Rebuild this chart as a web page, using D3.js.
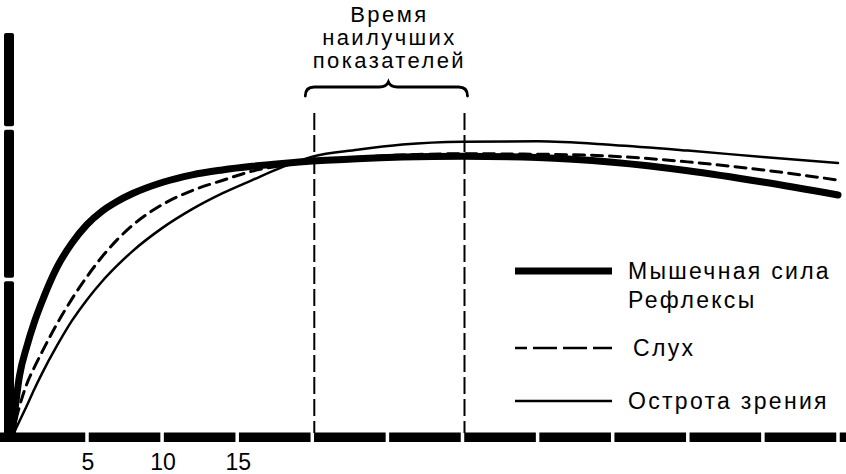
<!DOCTYPE html>
<html>
<head>
<meta charset="utf-8">
<script src="https://cdn.jsdelivr.net/npm/d3@7"></script>
<style>
  html, body { margin: 0; padding: 0; background: #fff; }
  svg { display: block; }
  text { font-family: "Liberation Sans", Arial, sans-serif; fill: #000; }
  .tick-label { font-family: "Liberation Sans Narrow", "Liberation Sans", Arial, sans-serif; }
</style>
</head>
<body>
<svg id="chart" width="846" height="474"></svg>
<script>
// ---- data ----
const ages    = [0, 0.5, 1, 1.5, 2, 3, 4, 5, 6, 7, 8, 10, 12, 14, 16, 18, 20, 23, 26, 30, 35, 40, 45, 50, 55];
const muscle  = [0, 15.0, 22.5, 28.5, 33.5, 42.0, 48.0, 52.6, 55.9, 58.3, 60.2, 63.0, 64.9, 66.1, 67.0, 67.7, 68.3, 68.9, 69.3, 69.5, 69.2, 68.0, 65.9, 63.1, 59.9];
const hearing = [0, 7.5, 13.2, 17.3, 21.0, 28.0, 34.2, 39.7, 44.6, 48.8, 52.3, 57.5, 61.0, 63.5, 65.8, 67.2, 68.1, 69.2, 69.8, 70.1, 70.0, 69.5, 68.1, 66.1, 63.6];
const vision  = [0, 3.9, 7.8, 11.9, 15.7, 22.6, 28.8, 34.0, 38.5, 42.4, 45.9, 51.7, 56.4, 60.3, 63.6, 66.8, 69.4, 71.1, 72.4, 73.1, 73.2, 72.3, 70.9, 69.3, 67.8];
const xTicks  = [0, 5, 10, 15, 20, 25, 30, 35, 40, 45, 50, 55];
const xTickLabels = ["5", "10", "15"];
const xLabelTicks = [5, 10, 15];
const yTicks  = [0, 39, 76.5, 100];
const bestPeriod = [20, 30];
const titleLines = ["Время", "наилучших", "показателей"];
const legendLabels = [["Мышечная сила", "Рефлексы"], ["Слух"], ["Острота зрения"]];

// ---- scales ----
const svg = d3.select("#chart");
const x = d3.scaleLinear().domain([0, 55]).range([11.9, 838]);
const y = d3.scaleLinear().domain([0, 100]).range([437, 33]);

// ---- axes (segmented thick bars with gaps at ticks) ----
const gap = 3.5;
const xSegs = d3.pairs(xTicks);
svg.append("g").selectAll("rect").data(xSegs).join("rect")
  .attr("x", (d, i) => i === 0 ? 0 : x(d[0]) + gap / 2)
  .attr("width", (d, i) => (x(d[1]) - gap / 2) - (i === 0 ? 0 : x(d[0]) + gap / 2))
  .attr("y", 432.5).attr("height", 9.5).attr("fill", "#000");
svg.append("rect").attr("x", x(55) + gap / 2).attr("width", 846 - x(55) - gap / 2)
  .attr("y", 432.5).attr("height", 9.5).attr("fill", "#000");

const ySegs = d3.pairs(yTicks);
svg.append("g").selectAll("rect").data(ySegs).join("rect")
  .attr("x", 4).attr("width", 10)
  .attr("y", (d, i) => y(d[1]) + (i === ySegs.length - 1 ? 0 : gap / 2))
  .attr("height", (d, i) => (i === 0 ? y(d[0]) + 5 : y(d[0]) - gap / 2) - (y(d[1]) + (i === ySegs.length - 1 ? 0 : gap / 2)))
  .attr("rx", 2)
  .attr("fill", "#000");

// tick labels
svg.append("g").selectAll("text").data(xLabelTicks).join("text")
  .attr("class", "tick-label")
  .attr("x", d => x(d) + 1).attr("y", 470)
  .attr("text-anchor", "middle")
  .attr("font-size", 23)
  .text((d, i) => xTickLabels[i]);

// ---- best-period markers ----
svg.append("g").selectAll("line").data(bestPeriod).join("line")
  .attr("x1", d => x(d) + 2).attr("x2", d => x(d) + 2)
  .attr("y1", 113).attr("y2", 433)
  .attr("stroke", "#000").attr("stroke-width", 2)
  .attr("stroke-dasharray", "17,5");

// brace
const bx0 = x(bestPeriod[0]) - 7, bx1 = x(bestPeriod[1]) + 5, bxc = x((bestPeriod[0] + bestPeriod[1]) / 2) + 1;
const bracePath = `M${bx0},96 Q${bx0},87 ${bx0 + 9},87 L${bxc - 9},87 Q${bxc - 2},87 ${bxc},82 Q${bxc + 2},87 ${bxc + 9},87 L${bx1 - 9},87 Q${bx1},87 ${bx1},96`;
svg.append("path").attr("d", bracePath)
  .attr("fill", "none").attr("stroke", "#000").attr("stroke-width", 2.8)
  .attr("stroke-linecap", "round");

// title
svg.append("g").selectAll("text").data(titleLines).join("text")
  .attr("x", bxc + 1).attr("y", (d, i) => 22 + i * 23)
  .attr("text-anchor", "middle")
  .attr("font-size", 22)
  .style("letter-spacing", "2.4px")
  .text(d => d);

// ---- curves ----
const line = d3.line().x(d => x(d[0])).y(d => y(d[1])).curve(d3.curveMonotoneX);
const series = [
  { vals: vision,  width: 2.5, dash: null },
  { vals: hearing, width: 3,   dash: "11,7" },
  { vals: muscle,  width: 7,   dash: null }
];
svg.append("g").selectAll("path").data(series).join("path")
  .attr("d", s => line(ages.map((a, i) => [a, s.vals[i]])))
  .attr("fill", "none").attr("stroke", "#000")
  .attr("stroke-width", s => s.width)
  .attr("stroke-dasharray", s => s.dash)
  .attr("stroke-linecap", "round").attr("stroke-linejoin", "round");

// ---- legend ----
const legendStyles = [
  { y: 271, width: 7, dash: null },
  { y: 348, width: 2.5, dash: "12,6,24,6,24,6,24" },
  { y: 401, width: 2.5, dash: null }
];
const lg = svg.append("g");
legendStyles.forEach((st, i) => {
  lg.append("line").attr("x1", 515).attr("x2", 612).attr("y1", st.y).attr("y2", st.y)
    .attr("stroke", "#000").attr("stroke-width", st.width)
    .attr("stroke-dasharray", st.dash);
  legendLabels[i].forEach((t, j) => {
    lg.append("text").attr("x", i === 1 ? 633 : 628).attr("y", st.y + 8 + j * 29)
      .attr("font-size", 23)
      .style("letter-spacing", "2.3px")
      .text(t);
  });
});
</script>
</body>
</html>
